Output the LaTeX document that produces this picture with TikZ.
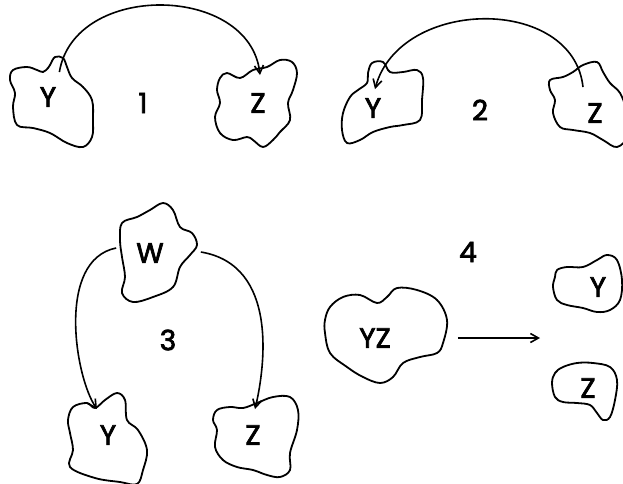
\documentclass[tikz,border=0pt]{standalone}
\usepackage{fontspec}
\setmainfont{Poppins}
\usetikzlibrary{arrows.meta}
\begin{document}
\begin{tikzpicture}[x=1pt,y=-1pt,
  blob/.style={line width=1.8pt, line join=round},
  lbl/.style={font=\fontsize{28}{28}\selectfont\addfontfeature{FakeBold=2.5}, inner sep=1pt},
  link/.style={line width=1.6pt, -{Straight Barb[length=8pt,width=9pt]}}]
\useasboundingbox[fill=white] (0,0) rectangle (623,483);
\begin{scope}
\clip (0,0) rectangle (623,483);
% panel 1
\draw[blob] plot[smooth cycle, tension=0.6] coordinates {(50,65) (55,57) (63,58) (67,67) (72,78) (83,87) (92,100) (93,120) (92,137) (83,147) (67,143) (50,133) (33,128) (17,125) (13,107) (15,93) (10,80) (13,70) (27,67) (37,70) (43,72) (48,68)};
\draw[blob] plot[smooth cycle, tension=0.6] coordinates {(227,73) (240,78) (253,70) (267,67) (280,60) (292,62) (297,73) (293,90) (288,103) (290,120) (280,132) (273,140) (263,147) (253,140) (247,137) (233,140) (220,133) (215,117) (220,103) (217,90) (220,78)};
% panel 2
\draw[blob] plot[smooth cycle, tension=0.6] coordinates {(372,63) (383,62) (390,72) (403,72) (417,70) (423,78) (422,100) (420,120) (403,125) (390,127) (373,132) (360,140) (347,143) (342,130) (343,113) (350,97) (358,90) (367,83) (368,73)};
\draw[blob] plot[smooth cycle, tension=0.6] coordinates {(550,80) (563,77) (573,72) (583,65) (597,62) (603,72) (610,83) (620,93) (626,110) (628,135) (617,147) (603,140) (590,133) (573,130) (560,127) (553,113) (555,100) (550,90)};
% panel 3
\draw[blob] plot[smooth cycle, tension=0.6] coordinates {(122,223) (137,217) (150,210) (163,203) (173,210) (180,227) (192,233) (197,245) (190,255) (180,267) (173,287) (153,297) (133,302) (122,293) (125,277) (122,257) (120,240)};
\draw[blob] plot[smooth cycle, tension=0.6] coordinates {(73,407) (87,403) (95,408) (105,400) (117,393) (125,400) (127,420) (138,430) (147,450) (143,470) (137,484) (120,482) (95,478) (70,467) (73,450) (70,433) (68,420)};
\draw[blob] plot[smooth cycle, tension=0.6] coordinates {(217,410) (230,407) (243,408) (257,403) (273,397) (290,397) (298,410) (297,430) (290,453) (290,470) (280,477) (267,475) (253,470) (237,467) (223,460) (215,447) (217,430) (213,420)};
% panel 4
\draw[blob] plot[smooth cycle, tension=0.6] coordinates {(330,307) (343,297) (360,295) (377,303) (387,297) (397,288) (417,290) (437,300) (447,320) (443,343) (437,353) (420,357) (403,363) (393,377) (380,383) (363,377) (347,367) (330,353) (325,333) (325,320)};
\draw[blob] plot[smooth cycle, tension=0.6] coordinates {(557,270) (567,267) (583,267) (597,260) (607,255) (617,260) (622,280) (620,300) (610,310) (597,312) (583,308) (567,305) (557,300) (553,287) (555,277)};
\draw[blob] plot[smooth cycle, tension=0.6] coordinates {(563,367) (577,363) (593,363) (610,367) (617,380) (615,400) (610,417) (603,420) (597,413) (590,405) (577,403) (563,402) (555,397) (552,383) (555,373)};
\end{scope}

% labels
\node[lbl] (y1) at (48,97) {Y};
\node[lbl] (z1) at (258,103) {Z};
\node[lbl] (n1) at (143,103) {1};
\node[lbl] (y2) at (373,108) {Y};
\node[lbl] (z2) at (595,113) {Z};
\node[lbl] (n2) at (480,110) {2};
\node[lbl] (w3) at (150,253) {W};
\node[lbl] (y3) at (108,435) {Y};
\node[lbl] (z3) at (253,435) {Z};
\node[lbl] (n3) at (168,340) {3};
\node[lbl] (yz) at (375,338) {YZ};
\node[lbl] (y4) at (598,287) {Y};
\node[lbl] (z4) at (588,388) {Z};
\node[lbl] (n4) at (468,252) {4};
\coordinate (split) at (540,338);

% connectors
\draw[link] ([shift={(2,-14)}]y1.north east) .. controls +(15,-91) and +(-10,-91) .. ([shift={(2,-17)}]z1.north);
\draw[link] ([shift={(-12,-15)}]z2.north) .. controls +(-10,-92) and +(25,-92) .. ([shift={(2,-8)}]y2.north);
\draw[link] ([shift={(-19,-5)}]w3.west) .. controls +(-60,12) and +(-22,-32) .. ([shift={(-11,-15)}]y3.north);
\draw[link] ([shift={(36,-1)}]w3.east) .. controls +(78,13) and +(10,-42) .. ([shift={(2,-15)}]z3.north);
\draw[link] ([shift={(66,0)}]yz.east) -- (split);
\end{tikzpicture}
\end{document}
